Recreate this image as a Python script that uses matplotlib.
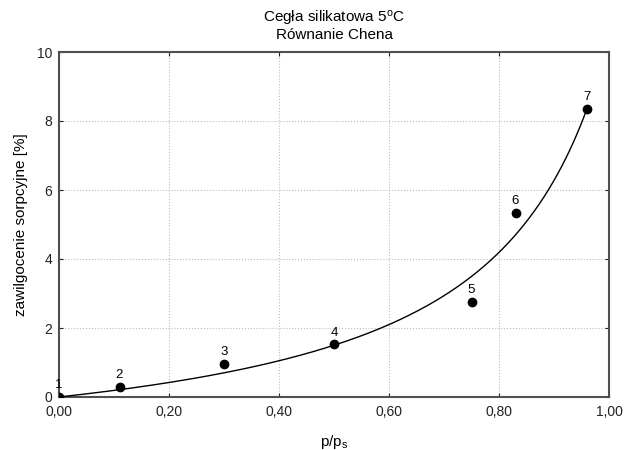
import numpy as np
import matplotlib
matplotlib.use("Agg")
import matplotlib.pyplot as plt
from matplotlib.ticker import FuncFormatter

plt.rcParams['font.family'] = ['Liberation Sans', 'DejaVu Sans']
plt.rcParams['mathtext.fontset'] = 'custom'
plt.rcParams['mathtext.rm'] = 'Liberation Sans'
plt.rcParams['mathtext.it'] = 'Liberation Sans:italic'

# Measured sorption points (relative pressure, moisture content %)
point_ids = ["1", "2", "3", "4", "5", "6", "7"]
rel_pressure = [0.00, 0.11, 0.30, 0.50, 0.75, 0.83, 0.96]
moisture = [0.00, 0.30, 0.97, 1.53, 2.76, 5.34, 8.35]

# Fitted isotherm parameters: u = a*x / (1 - b*x)
fit_a = 1.752
fit_b = 0.832

x_ticks = [0.0, 0.2, 0.4, 0.6, 0.8, 1.0]
y_ticks = [0, 2, 4, 6, 8, 10]

fig = plt.figure(figsize=(6.4, 4.5), dpi=100)
ax = fig.add_axes([59 / 640, 53 / 450, 550 / 640, 345 / 450])

xs = np.linspace(0.0, max(rel_pressure), 300)
ax.plot(xs, fit_a * xs / (1 - fit_b * xs), color='black', lw=1.0, zorder=3)

ax.plot(rel_pressure, moisture, 'o', color='black', ms=6, zorder=4)
for lab, px, py in zip(point_ids, rel_pressure, moisture):
    ax.annotate(lab, (px, py), xytext=(0, 4), textcoords='offset points',
                ha='center', va='bottom', fontsize=9.5, zorder=5)

ax.set_xlim(0, 1)
ax.set_ylim(0, 10)
ax.set_xticks(x_ticks)
ax.set_yticks(y_ticks)
ax.xaxis.set_major_formatter(FuncFormatter(lambda v, p: f"{v:.2f}".replace('.', ',')))
ax.yaxis.set_major_formatter(FuncFormatter(lambda v, p: f"{v:.0f}"))
ax.tick_params(direction='in', length=3, width=0.8, top=True, right=True,
               labelsize=10, colors='#222222')
ax.tick_params(axis='x', pad=6)
ax.tick_params(axis='y', pad=5)
ax.grid(True, color='#bbbbbb', linestyle=':', linewidth=0.8)

for side in ['left', 'bottom', 'top', 'right']:
    ax.spines[side].set_color('#505050')
    ax.spines[side].set_linewidth(1.5)

ax.set_xlabel(r"p/p$_\mathrm{s}$", fontsize=11, labelpad=10)
ax.set_ylabel("zawilgocenie sorpcyjne [%]", fontsize=11, labelpad=6)

title_x = (59 + 609) / 2 / 640
fig.text(title_x, 1 - 23 / 450, "Cegła silikatowa 5$^\\mathrm{o}$C",
         ha='center', va='baseline', fontsize=11)
fig.text(title_x, 1 - 39 / 450, "Równanie Chena",
         ha='center', va='baseline', fontsize=11)

fig.savefig("out.png", dpi=100)
